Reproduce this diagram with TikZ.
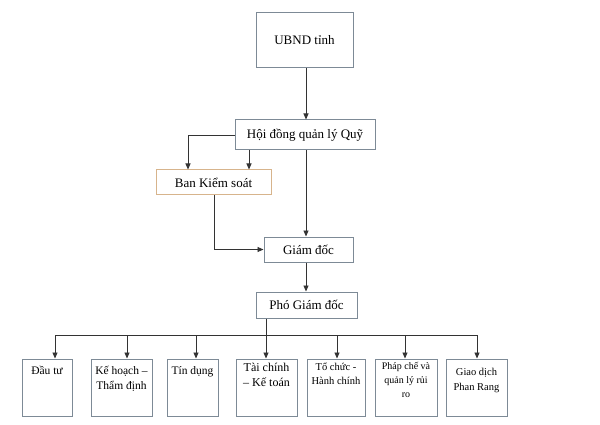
\documentclass[tikz,border=0pt]{standalone}
\usepackage{fontspec}
\setmainfont{Liberation Serif}
\usetikzlibrary{arrows.meta}
\definecolor{bord}{RGB}{125,138,150}
\definecolor{obord}{RGB}{215,180,140}
\begin{document}
\begin{tikzpicture}[x=1pt,y=-1pt,
  box/.style={draw=bord, line width=1pt, inner sep=0pt, align=center},
  big/.style={font=\fontsize{13}{15}\selectfont},
  arr/.style={-{Triangle[length=6pt,width=5pt]}, line width=0.9pt, black!80}]
\useasboundingbox[fill=white] (0,0) rectangle (600,425);
\newcommand\bx[6]{\node[box,#6,minimum width=#4-#2,minimum height=#5-#3] (#1) at ({(#2+#4)/2},{(#3+#5)/2}) {};}
\bx{ubnd}{256}{13}{353}{68}{}
\node[big] at (ubnd) {UBND tỉnh};
\bx{hd}{235}{120}{375}{150}{}
\node[big] at (hd) {Hội đồng quản lý Quỹ};
\bx{bks}{156}{170}{271}{195}{draw=obord}
\node[big] at (bks) {Ban Kiểm soát};
\bx{gd}{264}{237}{353}{262}{}
\node[big] at (gd) {Giám đốc};
\bx{pgd}{256}{292}{357}{318}{}
\node[big] at (pgd) {Phó Giám đốc};
\bx{b1}{22}{359}{72}{416}{}
\bx{b2}{91}{359}{152}{416}{}
\bx{b3}{167}{359}{218}{416}{}
\bx{b4}{236}{359}{297}{416}{}
\bx{b5}{307}{359}{365}{416}{}
\bx{b6}{375}{359}{437}{416}{}
\bx{b7}{446}{359}{507}{416}{}
\tikzset{lab/.style={anchor=north, align=center, font=\fontsize{11.5}{15}\selectfont}}
\node[lab] at ([yshift=-4]b1.north) {Đầu tư};
\node[lab] at ([yshift=-4]b2.north) {Kế hoạch –\\Thẩm định};
\node[lab] at ([yshift=-4]b3.north) {Tín dụng};
\node[lab, font=\fontsize{12}{15}\selectfont] at ([yshift=-1]b4.north) {Tài chính\\– Kế toán};
\node[lab, font=\fontsize{10.5}{14}\selectfont] at ([yshift=-1]b5.north) {Tổ chức -\\Hành chính};
\node[lab, font=\fontsize{10}{14}\selectfont] at ([yshift=0]b6.north) {Pháp chế và\\quản lý rủi\\ro};
\node[lab, font=\fontsize{10.5}{15}\selectfont] at ([yshift=-6]b7.north) {Giao dịch\\Phan Rang};
\coordinate (d) at (306,0);
\draw[arr] (ubnd.south -| d) -- (hd.north -| d);
\draw[arr] (hd.south -| d) -- (gd.north -| d);
\draw[arr] (gd.south -| d) -- (pgd.north -| d);
\coordinate (l1) at (188,0);
\coordinate (l2) at (249,0);
\coordinate (l3) at (214,0);
\draw[arr] (hd.west) -| (bks.north -| l1);
\draw[arr] (hd.south -| l2) -- (bks.north -| l2);
\draw[arr] (bks.south -| l3) |- (gd.west);
\draw[line width=0.9pt, black!80] (55,335) -- (477,335);
\draw[arr] (pgd.south -| 266,0) -- (b4.north -| 266,0);
\foreach \x/\b in {55/b1,127/b2,196/b3,337/b5,405/b6,477/b7}
  \draw[arr] (\x,335) -- (\b.north -| \x,0);
\end{tikzpicture}
\end{document}
